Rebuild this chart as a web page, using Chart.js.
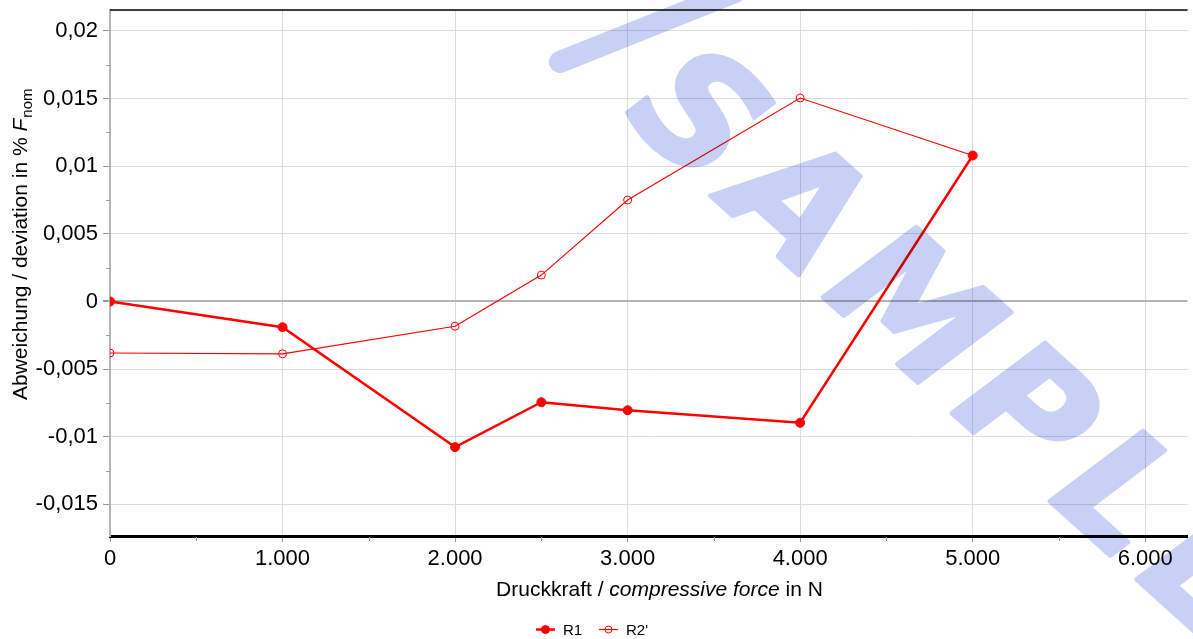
<!DOCTYPE html>
<html>
<head>
<meta charset="utf-8">
<script src="https://cdn.jsdelivr.net/npm/chart.js@4.4.0/dist/chart.umd.min.js"></script>
<style>
html,body{margin:0;padding:0;background:#fff;}
</style>
</head>
<body>
<canvas id="myChart" width="1193" height="639"></canvas>
<script>
// donnees
var forceN = [0, 1000, 2000, 2500, 3000, 4000, 5000];
var r1 = [0, -0.0019, -0.01077, -0.00745, -0.00804, -0.00897, 0.01079];
var r2 = [-0.00381, -0.00387, -0.00183, 0.00195, 0.0075, 0.01504, 0.01079];
var seriesNames = ['R1', "R2'"];

var xTicks = [0, 1000, 2000, 3000, 4000, 5000, 6000];
var xMinor = [500, 1500, 2500, 3500, 4500, 5500];
var yTicks = [-0.015, -0.01, -0.005, 0, 0.005, 0.01, 0.015, 0.02];
var yMinor = [-0.0125, -0.0075, -0.0025, 0.0025, 0.0075, 0.0125, 0.0175];

var xTitle = [['Druckkraft / ', ''], ['compressive force', 'italic '], [' in N', '']];
var yTitle = [['Abweichung / deviation in % ', ''], ['F', 'italic ']];
var ySub = 'nom';
var watermarkText = 'SAMPLE';

var FONT = '"Liberation Sans", Arial, Helvetica, sans-serif';

/******************************************/
function fmtX(v){
    return v.toString().replace(/\B(?=(\d{3})+(?!\d))/g, '.');
}
function fmtY(v){
    return (Math.round(v * 100000) / 100000).toString().replace('.', ',');
}
function pts(ys){
    return forceN.map(function(x, i){ return {x: x, y: ys[i]}; });
}

/******************************************/
// titres, legende, petites graduations, filigrane
var extras = {
    id: 'extras',
    afterDraw: function(chart){
        var ctx = chart.ctx, a = chart.chartArea;
        var xs = chart.scales.x, ys = chart.scales.y;
        ctx.save();

        // bord du haut
        ctx.strokeStyle = '#000';
        ctx.lineWidth = 1.5;
        ctx.beginPath();
        ctx.moveTo(a.left, a.top);
        ctx.lineTo(a.right, a.top);
        ctx.stroke();

        // graduations secondaires
        ctx.strokeStyle = '#999';
        ctx.lineWidth = 1;
        xMinor.forEach(function(v){
            var px = Math.round(xs.getPixelForValue(v)) + 0.5;
            ctx.beginPath();
            ctx.moveTo(px, a.bottom + 1);
            ctx.lineTo(px, a.bottom + 5);
            ctx.stroke();
        });
        yMinor.forEach(function(v){
            var py = Math.round(ys.getPixelForValue(v)) + 0.5;
            ctx.beginPath();
            ctx.moveTo(a.left - 4, py);
            ctx.lineTo(a.left, py);
            ctx.stroke();
        });

        // titre axe x
        ctx.fillStyle = '#000';
        ctx.textBaseline = 'alphabetic';
        ctx.textAlign = 'left';
        var tw = 0;
        xTitle.forEach(function(p){
            ctx.font = p[1] + '21px ' + FONT;
            tw += ctx.measureText(p[0]).width;
        });
        var x0 = 659.5 - tw / 2;
        xTitle.forEach(function(p){
            ctx.font = p[1] + '21px ' + FONT;
            ctx.fillText(p[0], x0, 596);
            x0 += ctx.measureText(p[0]).width;
        });

        // titre axe y
        ctx.save();
        ctx.translate(26.5, 400);
        ctx.rotate(-Math.PI / 2);
        var y0 = 0;
        yTitle.forEach(function(p){
            ctx.font = p[1] + '21px ' + FONT;
            ctx.fillText(p[0], y0, 0);
            y0 += ctx.measureText(p[0]).width;
        });
        ctx.font = '15px ' + FONT;
        ctx.fillText(ySub, y0 + 1, 5.5);
        ctx.restore();

        // legende
        var lx = [536, 599];
        chart.data.datasets.forEach(function(ds, i){
            var x = lx[i], y = 629.5;
            ctx.strokeStyle = ds.borderColor;
            ctx.lineWidth = ds.borderWidth;
            ctx.beginPath();
            ctx.moveTo(x, y);
            ctx.lineTo(x + 19, y);
            ctx.stroke();
            ctx.beginPath();
            ctx.arc(x + 9.5, y, ds.pointRadius - 0.5, 0, Math.PI * 2);
            ctx.fillStyle = ds.pointBackgroundColor;
            ctx.fill();
            ctx.lineWidth = ds.pointBorderWidth;
            ctx.strokeStyle = ds.pointBorderColor;
            ctx.stroke();
            ctx.fillStyle = '#000';
            ctx.font = '15px ' + FONT;
            ctx.fillText(ds.label, x + 27, 635);
        });

        // filigrane (lettre par lettre, espacees)
        var wm = document.createElement('canvas');
        wm.width = chart.width;
        wm.height = chart.height;
        var w = wm.getContext('2d');
        w.fillStyle = '#c8d0f5';
        w.strokeStyle = '#c8d0f5';
        w.lineCap = 'round';
        w.lineWidth = 22;
        w.beginPath();
        w.moveTo(560, 62);
        w.lineTo(735, -8);
        w.stroke();
        w.translate(945, 352);
        w.rotate(42 * Math.PI / 180);
        w.font = 'bold oblique 158px "DejaVu Sans", sans-serif';
        w.textAlign = 'left';
        w.textBaseline = 'middle';
        w.lineJoin = 'round';
        w.lineWidth = 4;
        var gap = 16, total = 0;
        var letters = watermarkText.split('');
        letters.forEach(function(c, i){
            total += w.measureText(c).width + (i > 0 ? gap : 0);
        });
        var px = -total / 2;
        letters.forEach(function(c){
            w.fillText(c, px, 0);
            w.strokeText(c, px, 0);
            px += w.measureText(c).width + gap;
        });
        ctx.globalCompositeOperation = 'multiply';
        ctx.drawImage(wm, 0, 0);

        ctx.restore();
    }
};

/******************************************/
var ctx = document.getElementById('myChart').getContext('2d');
var myChart = new Chart(ctx, {
    type: 'line',
    data: {
        datasets: [{
            label: seriesNames[0],
            data: pts(r1),
            borderColor: '#ff0000',
            backgroundColor: '#ff0000',
            borderWidth: 2.5,
            pointRadius: 4.5,
            pointBackgroundColor: '#ff0000',
            pointBorderColor: '#ff0000',
            pointBorderWidth: 1,
            clip: 0
        }, {
            label: seriesNames[1],
            data: pts(r2),
            borderColor: '#ff0000',
            backgroundColor: 'rgba(0,0,0,0)',
            borderWidth: 1.2,
            pointRadius: 4,
            pointBackgroundColor: 'rgba(0,0,0,0)',
            pointBorderColor: '#ff0000',
            pointBorderWidth: 1,
            clip: 0
        }]
    },
    options: {
        responsive: false,
        animation: false,
        events: [],
        devicePixelRatio: 1,
        layout: {padding: {top: 10, right: 0, left: 0, bottom: 0}},
        plugins: {
            legend: {display: false},
            tooltip: {enabled: false}
        },
        scales: {
            x: {
                type: 'linear',
                min: 0,
                max: 6245,
                afterBuildTicks: function(s){ s.ticks = xTicks.map(function(v){ return {value: v}; }); },
                afterFit: function(s){
                    s.height = 103;
                    s.paddingLeft = 0; s.paddingRight = 0;
                    s.paddingTop = 0; s.paddingBottom = 0;
                },
                ticks: {
                    callback: function(v){ return fmtX(v); },
                    font: {family: FONT, size: 22},
                    color: '#000',
                    padding: 4,
                    maxRotation: 0,
                    autoSkip: false
                },
                grid: {color: '#dcdcdc', lineWidth: 1, tickColor: '#999', tickLength: 6},
                border: {color: '#000', width: 3}
            },
            y: {
                min: -0.01734,
                max: 0.02155,
                afterBuildTicks: function(s){ s.ticks = yTicks.map(function(v){ return {value: v}; }); },
                afterFit: function(s){
                    s.width = 110;
                    s.paddingTop = 0; s.paddingBottom = 0;
                    s.paddingLeft = 0; s.paddingRight = 0;
                },
                ticks: {
                    callback: function(v){ return fmtY(v); },
                    font: {family: FONT, size: 22},
                    color: '#000',
                    padding: 5,
                    autoSkip: false
                },
                grid: {
                    color: function(c){ return c.tick && c.tick.value === 0 ? '#b4b4b4' : '#dcdcdc'; },
                    lineWidth: function(c){ return c.tick && c.tick.value === 0 ? 2 : 1; },
                    tickColor: '#999',
                    tickLength: 7
                },
                border: {color: '#b4b4b4', width: 2}
            }
        }
    },
    plugins: [extras]
});
</script>
</body>
</html>
